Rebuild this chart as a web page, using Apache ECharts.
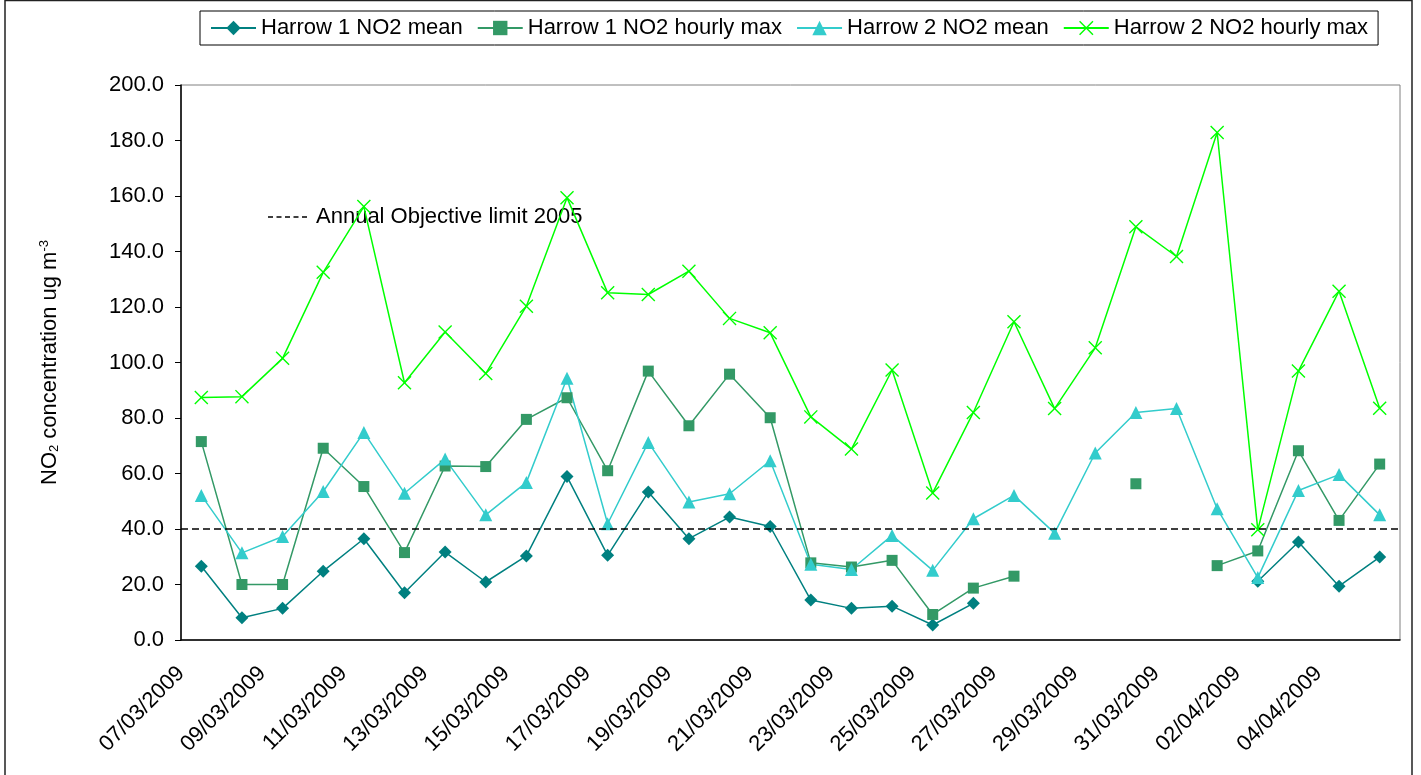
<!DOCTYPE html>
<html>
<head>
<meta charset="utf-8">
<title>Harrow NO2</title>
<script src="https://cdn.jsdelivr.net/npm/echarts@6.0.0/dist/echarts.min.js"></script>
<style>
  html, body { margin: 0; padding: 0; background: #fff; }
  #chart { width: 1421px; height: 775px; }
</style>
</head>
<body>
<div id="chart"></div>
<script>
// daily values, 07/03/2009 .. 05/04/2009
var dates = ['07/03/2009','08/03/2009','09/03/2009','10/03/2009','11/03/2009','12/03/2009','13/03/2009','14/03/2009','15/03/2009','16/03/2009',
  '17/03/2009','18/03/2009','19/03/2009','20/03/2009','21/03/2009','22/03/2009','23/03/2009','24/03/2009','25/03/2009','26/03/2009',
  '27/03/2009','28/03/2009','29/03/2009','30/03/2009','31/03/2009','01/04/2009','02/04/2009','03/04/2009','04/04/2009','05/04/2009'];

var harrow1Mean = [26.6, 8.0, 11.4, 24.8, 36.5, 17.0, 31.7, 20.9, 30.3, 58.9, 30.5, 53.3, 36.5, 44.3, 40.9,
  14.4, 11.4, 12.2, 5.4, 13.2, null, null, null, null, null, null, 21.2, 35.3, 19.4, 29.9];
var harrow1Max = [71.5, 20.0, 20.0, 69.1, 55.3, 31.5, 62.7, 62.5, 79.5, 87.3, 61.0, 96.9, 77.2, 95.8, 80.1,
  27.8, 26.3, 28.7, 9.2, 18.7, 23.0, null, null, 56.3, null, 26.8, 32.1, 68.2, 43.1, 63.4];
var harrow2Mean = [52.1, 31.4, 37.3, 53.5, 74.8, 52.9, 65.2, 45.1, 56.8, 94.3, 41.9, 71.2, 49.7, 52.7, 64.6,
  27.3, 25.4, 37.7, 25.1, 43.7, 52.1, 38.5, 67.4, 82.0, 83.4, 47.3, 22.5, 53.9, 59.6, 45.1];
var harrow2Max = [87.4, 87.7, 101.5, 132.5, 156.2, 92.7, 111.0, 96.0, 120.3, 159.4, 125.1, 124.5, 132.9, 115.9, 110.7,
  80.4, 68.8, 97.3, 53.0, 82.0, 114.7, 83.4, 105.3, 148.9, 138.2, 182.9, 39.7, 96.9, 125.7, 83.5];

var objectiveLimit = 40;
var objectiveLabel = 'Annual Objective limit 2005';

(function(){
  var FONT = 'Liberation Sans, Arial, sans-serif';
  // X marker as a thin filled cross
  var CROSS = 'path://M0,1.4L1.4,0L10,8.6L18.6,0L20,1.4L11.4,10L20,18.6L18.6,20L10,11.4L1.4,20L0,18.6L8.6,10Z';

  function lineSeries(name, data, color, symbol, size){
    return {
      name: name, type: 'line', data: data,
      symbol: symbol, symbolSize: size, showAllSymbol: true,
      connectNulls: false, animation: false,
      lineStyle: { color: color, width: 1.5 },
      itemStyle: { color: color, borderWidth: 0 }
    };
  }

  var series = [
    lineSeries('Harrow 1 NO2 mean', harrow1Mean, '#008080', 'diamond', 13),
    lineSeries('Harrow 1 NO2 hourly max', harrow1Max, '#339966', 'rect', 11),
    lineSeries('Harrow 2 NO2 mean', harrow2Mean, '#33CCCC', 'triangle', 13),
    lineSeries('Harrow 2 NO2 hourly max', harrow2Max, '#00FF00', CROSS, 14)
  ];
  series[0].markLine = {
    silent: true, symbol: 'none', animation: false,
    label: { show: false },
    lineStyle: { color: '#000', width: 1.5, type: [7, 4] },
    data: [{ yAxis: objectiveLimit }]
  };

  var option = {
    backgroundColor: '#fff',
    animation: false,
    textStyle: { fontFamily: FONT },
    grid: { left: 181, top: 85, right: 21, bottom: 135, show: true, borderColor: '#808080', borderWidth: 1 },
    legend: {
      left: 200, top: 11,
      padding: [6, 10],
      itemWidth: 45, itemHeight: 18, itemGap: 14,
      borderColor: '#000', borderWidth: 1,
      textStyle: { fontFamily: FONT, fontSize: 22, color: '#000' },
      data: series.map(function(s){ return s.name; })
    },
    xAxis: [
      {
        type: 'category', data: dates, boundaryGap: true, position: 'bottom',
        axisLine: { lineStyle: { color: '#000', width: 1.5 } },
        axisTick: { interval: 1, length: 6, lineStyle: { color: '#000' } },
        axisLabel: { show: false }
      },
      {
        // label axis: dates sit on the day boundaries, every second day
        type: 'category', data: dates.concat(['']), boundaryGap: false, position: 'bottom',
        axisLine: { show: false }, axisTick: { show: false },
        axisLabel: { interval: 1, rotate: 45, margin: 30, color: '#000', fontFamily: FONT, fontSize: 22 }
      }
    ],
    yAxis: {
      type: 'value', min: 0, max: 200, interval: 20,
      name: 'NO{sub|2} concentration ug m{sup|-3}',
      nameLocation: 'middle', nameGap: 120,
      nameTextStyle: {
        fontFamily: FONT, fontSize: 22, color: '#000',
        rich: {
          sub: { fontSize: 13, verticalAlign: 'bottom', padding: [8, 0, 0, 0], color: '#000', fontFamily: FONT },
          sup: { fontSize: 13, verticalAlign: 'top', padding: [0, 0, 10, 0], color: '#000', fontFamily: FONT }
        }
      },
      splitLine: { show: false },
      axisLine: { show: true, lineStyle: { color: '#000', width: 1.5 } },
      axisTick: { show: true, length: 6, lineStyle: { color: '#000' } },
      axisLabel: {
        margin: 17, color: '#000', fontFamily: FONT, fontSize: 22,
        formatter: function(v){ return v.toFixed(1); }
      }
    },
    graphic: [
      { type: 'rect', silent: true, shape: { x: 5, y: 0.5, width: 1407, height: 800 },
        style: { fill: 'none', stroke: '#222', lineWidth: 1.5 } },
      { type: 'line', silent: true, shape: { x1: 268, y1: 217, x2: 307, y2: 217 },
        style: { stroke: '#000', lineWidth: 1.5, lineDash: [5, 3.5] } },
      { type: 'text', silent: true, x: 316, y: 217,
        style: { text: objectiveLabel, font: '22px ' + FONT, fill: '#000', align: 'left', verticalAlign: 'middle' } }
    ],
    series: series
  };

  var chart = echarts.init(document.getElementById('chart'), null, { renderer: 'canvas' });
  chart.setOption(option);
})();
</script>
</body>
</html>
